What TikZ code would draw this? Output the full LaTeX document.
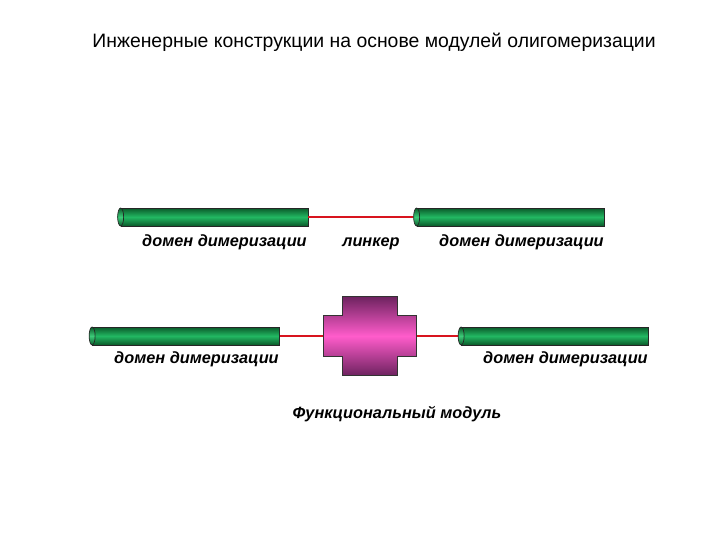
\documentclass[tikz,border=0pt]{standalone}
\usepackage{fontspec}
\setmainfont{Liberation Sans}
\usetikzlibrary{calc}
\definecolor{domaingreen}{HTML}{22B862}
\definecolor{domaindark}{HTML}{0A5A2A}
\definecolor{domainlight}{HTML}{3CCB78}
\definecolor{linkerred}{HTML}{D8141E}
\definecolor{modulepink}{HTML}{FF5CCB}
\definecolor{moduledark}{HTML}{6E2360}

\begin{document}
\begin{tikzpicture}[
  x=0.25mm, y=-0.25mm,
  dimer/.style={draw=black!85, line width=0.5pt,
    minimum width=46.75mm, minimum height=4.5mm, inner sep=0pt,
    top color=domaindark, bottom color=domaindark, middle color=domaingreen},
  dimercap/.style={draw=black!85, line width=0.5pt,
    top color=domaindark, bottom color=domaindark, middle color=domainlight},
  linker/.style={draw=linkerred, line width=1.4pt},
  tag/.style={font=\fontsize{11.6}{14}\selectfont\bfseries\itshape, inner sep=0pt},
  heading/.style={font=\fontsize{13.8}{16}\selectfont, inner sep=0pt}
]
\useasboundingbox (0,0) rectangle (720,540);

\node[heading] (head) at (374,42) {Инженерные конструкции на основе модулей олигомеризации};

% two dimerisation domains joined by a linker
\node[dimer] (d1) at (214.5,217) {};
\node[dimer] (d2) at (510.5,217) {};
\draw[linker] (d1.east) -- (d2.west);
\shade[dimercap] (d1.west) ellipse [x radius=0.75mm, y radius=2.25mm];
\shade[dimercap] (d2.west) ellipse [x radius=0.75mm, y radius=2.25mm];
\node[tag, anchor=base east] (t1) at (307,246) {домен димеризации};
\node[tag, anchor=base] (lk) at (371,246) {линкер};
\node[tag, anchor=base east] (t2) at (604,246) {домен димеризации};

% domains around the functional module
\node[dimer] (d3) at (186,336) {};
\node[dimer] (d4) at (555,336) {};
\node[minimum width=23mm, minimum height=19.5mm, inner sep=0pt] (mod) at (370,336) {};
\draw[linker] (d3.east) -- (mod.west);
\draw[linker] (mod.east) -- (d4.west);
\shade[dimercap] (d3.west) ellipse [x radius=0.75mm, y radius=2.25mm];
\shade[dimercap] (d4.west) ellipse [x radius=0.75mm, y radius=2.25mm];
\shade[draw=black!80, line width=0.6pt,
  top color=moduledark, bottom color=moduledark, middle color=modulepink]
  ($(mod.north west)+(4.75mm,0)$) -- ($(mod.north east)+(-4.75mm,0)$)
  -- ($(mod.north east)+(-4.75mm,-4.75mm)$) -- ($(mod.north east)+(0,-4.75mm)$)
  -- ($(mod.south east)+(0,4.75mm)$) -- ($(mod.south east)+(-4.75mm,4.75mm)$)
  -- ($(mod.south east)+(-4.75mm,0)$) -- ($(mod.south west)+(4.75mm,0)$)
  -- ($(mod.south west)+(4.75mm,4.75mm)$) -- ($(mod.south west)+(0,4.75mm)$)
  -- ($(mod.north west)+(0,-4.75mm)$) -- ($(mod.north west)+(4.75mm,-4.75mm)$)
  -- cycle;
\node[tag, anchor=base east] (t3) at (279,363) {домен димеризации};
\node[tag, anchor=base east] (t4) at (648,363) {домен димеризации};
\node[tag, anchor=base] (fm) at (397,418) {Функциональный модуль};
\end{tikzpicture}
\end{document}
